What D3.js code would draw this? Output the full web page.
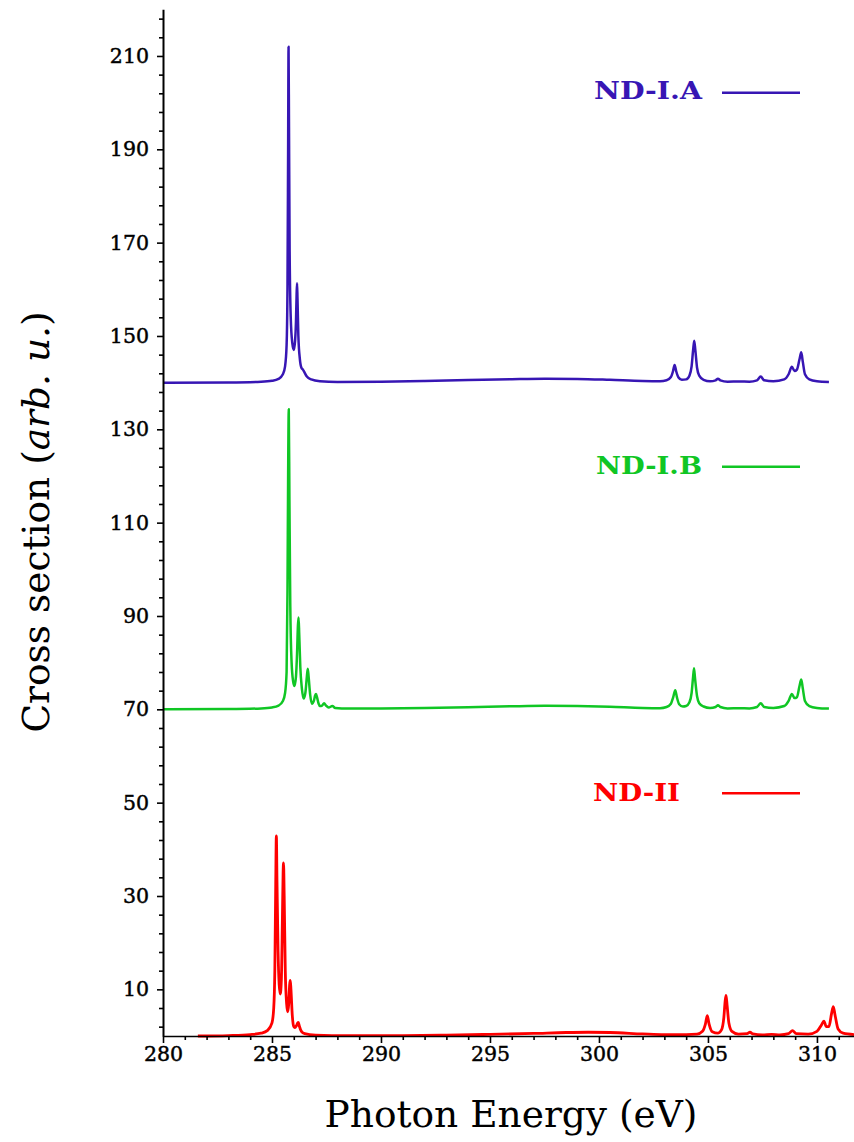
<!DOCTYPE html>
<html>
<head>
<meta charset="utf-8">
<script src="https://cdn.jsdelivr.net/npm/d3@7"></script>
<style>
  html, body { margin: 0; padding: 0; background: #fff; }
  svg { display: block; }
  text { font-family: "DejaVu Serif", serif; }
</style>
</head>
<body>
<svg id="chart" width="854" height="1142"></svg>
<script>
// ---- data (photon energy eV, cross section arb. u.) ----
const seriesNames = ["ND-I.A", "ND-I.B", "ND-II"];
const seriesColors = ["#3716b4", "#10c624", "#ff0000"];

const ndIA = [
  [280, 140.0], [283, 140.05], [284.5, 140.2], [285.0, 140.4], [285.3, 140.8], [285.5, 141.8],
  [285.6, 143.5], [285.67, 148], [285.71, 160], [285.74, 190], [285.76, 212], [285.78, 195],
  [285.81, 168], [285.86, 154], [285.93, 148.5], [286.0, 147], [286.06, 149], [286.1, 153],
  [286.13, 159], [286.15, 161.3], [286.17, 158], [286.21, 150], [286.28, 145], [286.35, 143.2],
  [286.42, 142.8], [286.48, 142.3], [286.6, 141.3], [286.8, 140.7], [287.2, 140.3], [288, 140.15],
  [290, 140.2], [292, 140.35], [294, 140.55], [296, 140.75], [297.5, 140.85], [299, 140.8],
  [300.5, 140.6], [302, 140.35], [302.8, 140.3], [303.1, 140.5], [303.3, 141.2], [303.4, 142.5],
  [303.47, 143.8], [303.54, 142.5], [303.65, 141.1], [303.8, 140.6], [304.0, 140.7], [304.15, 141.5],
  [304.25, 143.5], [304.32, 147], [304.37, 149], [304.42, 147], [304.5, 143.2], [304.6, 141.5],
  [304.8, 140.6], [305.1, 140.3], [305.35, 140.5], [305.46, 140.85], [305.57, 140.5], [305.9, 140.2],
  [306.44, 140.25], [306.9, 140.2], [307.25, 140.5], [307.42, 141.3], [307.58, 140.5], [308.0, 140.3],
  [308.5, 140.7], [308.7, 141.8], [308.85, 143.4], [308.97, 142.5], [309.08, 142.8], [309.2, 145],
  [309.28, 146.5], [309.35, 144.5], [309.45, 141.8], [309.65, 140.7], [310.0, 140.3], [310.55, 140.15]
];

const ndIB = [
  [280, 70.0], [283, 70.05], [284.5, 70.2], [285.0, 70.4], [285.3, 70.8], [285.5, 71.8],
  [285.6, 73.5], [285.67, 78], [285.71, 95], [285.74, 120], [285.77, 134.3], [285.8, 115],
  [285.84, 92], [285.9, 80], [285.97, 76], [286.03, 75], [286.1, 77], [286.15, 82],
  [286.19, 88], [286.22, 89.7], [286.25, 86], [286.3, 79], [286.37, 74.5], [286.45, 72.3],
  [286.53, 73.5], [286.6, 77], [286.64, 78.7], [286.68, 77], [286.75, 73.2], [286.83, 71.2],
  [286.92, 71.8], [286.98, 73], [287.02, 73.3], [287.07, 72.5], [287.14, 71.2], [287.2, 70.7],
  [287.3, 70.8], [287.39, 71.3], [287.48, 70.8], [287.6, 70.4], [287.77, 70.7], [287.9, 70.3],
  [288.5, 70.15], [290, 70.2], [292, 70.3], [294, 70.45], [296, 70.65], [297.5, 70.75],
  [299, 70.7], [300.5, 70.55], [302, 70.3], [302.8, 70.25], [303.1, 70.5], [303.3, 71.2],
  [303.4, 72.5], [303.5, 74.1], [303.58, 72.5], [303.68, 71.1], [303.85, 70.6], [304.0, 70.7],
  [304.15, 71.5], [304.25, 73.5], [304.31, 76.5], [304.36, 78.8], [304.41, 76.5], [304.5, 72.8],
  [304.6, 71.3], [304.8, 70.6], [305.1, 70.3], [305.35, 70.5], [305.46, 70.85], [305.57, 70.5],
  [305.9, 70.2], [306.44, 70.25], [306.9, 70.2], [307.25, 70.5], [307.42, 71.3], [307.58, 70.5],
  [308.0, 70.3], [308.5, 70.7], [308.7, 71.8], [308.85, 73.3], [308.97, 72.4], [309.08, 72.6],
  [309.2, 75], [309.28, 76.4], [309.35, 74.5], [309.45, 71.8], [309.65, 70.7], [310.0, 70.3],
  [310.55, 70.15]
];

const ndII = [
  [281.6, 0.0], [283, 0.1], [284, 0.3], [284.5, 0.6], [284.8, 1.2], [285.0, 2.8],
  [285.08, 6], [285.13, 14], [285.17, 32], [285.2, 42.9], [285.23, 33], [285.28, 18],
  [285.33, 11], [285.38, 9], [285.43, 12], [285.48, 26], [285.51, 35], [285.53, 37.1],
  [285.56, 30], [285.61, 14], [285.67, 7], [285.72, 5.2], [285.77, 7], [285.81, 11],
  [285.84, 11.9], [285.87, 10], [285.93, 4.5], [286.0, 2], [286.05, 1.8], [286.12, 2.2],
  [286.18, 2.8], [286.21, 2.9], [286.25, 2.2], [286.35, 1.0], [286.5, 0.5], [287, 0.2],
  [288.5, 0.08], [291, 0.1], [293, 0.2], [295, 0.35], [297, 0.55], [298.5, 0.75],
  [299.5, 0.8], [300.5, 0.75], [302, 0.45], [303, 0.3], [304, 0.3], [304.5, 0.4],
  [304.75, 1.0], [304.88, 2.5], [304.97, 4.35], [305.05, 2.6], [305.2, 0.9], [305.45, 0.6],
  [305.62, 1.3], [305.73, 4], [305.79, 7.5], [305.83, 8.7], [305.88, 6.5], [305.96, 2.8],
  [306.1, 1.0], [306.4, 0.4], [306.8, 0.5], [306.93, 0.8], [307.06, 0.45], [307.5, 0.25],
  [307.92, 0.35], [308.3, 0.25], [308.7, 0.5], [308.88, 1.15], [309.05, 0.5], [309.6, 0.4],
  [310.0, 1.0], [310.2, 2.3], [310.32, 3.2], [310.43, 2.0], [310.55, 2.0], [310.67, 4.8],
  [310.75, 6.3], [310.83, 4.5], [310.97, 1.5], [311.2, 0.6], [311.7, 0.3]
];

const xMajorTicks = [280, 285, 290, 295, 300, 305, 310];
const yMajorTicks = [10, 30, 50, 70, 90, 110, 130, 150, 170, 190, 210];

// ---- drawing ----
const svg = d3.select("#chart");
const x = d3.scaleLinear().domain([280, 311.7]).range([163, 854]);
const y = d3.scaleLinear().domain([0, 220]).range([1036, 9.3]);

const xMinor = d3.range(280, 312, 1).filter(v => !xMajorTicks.includes(v));
const yMinor = d3.range(2, 220, 4).filter(v => !yMajorTicks.includes(v));

const line = d3.line().x(d => x(d[0])).y(d => y(d[1])).curve(d3.curveMonotoneX);
const allSeries = [ndIA, ndIB, ndII];
const widths = [2.5, 2.5, 2.8];

allSeries.forEach((s, i) => {
  svg.append("path").datum(s)
    .attr("fill", "none")
    .attr("stroke", seriesColors[i])
    .attr("stroke-width", widths[i])
    .attr("stroke-linejoin", "round")
    .attr("d", line);
});

// x axis
const gx = svg.append("g").attr("transform", "translate(0,1036)");
gx.call(d3.axisBottom(x).tickValues(xMinor).tickSize(4).tickSizeOuter(0).tickFormat(""));
gx.call(g => g.select(".domain").remove());
const gx2 = svg.append("g").attr("transform", "translate(0,1036)");
gx2.call(d3.axisBottom(x).tickValues(xMajorTicks).tickSize(7).tickSizeOuter(0).tickPadding(3).tickFormat(d3.format("d")));
gx2.select(".domain").attr("stroke", "#000").attr("stroke-width", 1.6);

// y axis
const gy = svg.append("g").attr("transform", "translate(163,0)");
gy.call(d3.axisLeft(y).tickValues(yMinor).tickSize(4).tickSizeOuter(0).tickFormat(""));
gy.call(g => g.select(".domain").remove());
const gy2 = svg.append("g").attr("transform", "translate(163,0)");
gy2.call(d3.axisLeft(y).tickValues(yMajorTicks).tickSize(6).tickSizeOuter(0).tickPadding(8).tickFormat(d3.format("d")));
gy2.select(".domain").attr("stroke", "#000").attr("stroke-width", 2);

svg.selectAll(".tick line").attr("stroke", "#000").attr("stroke-width", 1.6);
svg.selectAll(".tick text")
  .attr("font-size", 20.5).attr("font-family", "DejaVu Serif")
  .attr("fill", "#000").attr("stroke", "#000").attr("stroke-width", 0.45);

// axis titles
svg.append("text")
  .attr("x", 511).attr("y", 1127)
  .attr("text-anchor", "middle")
  .attr("font-size", 37.5)
  .attr("fill", "#000")
  .text("Photon Energy (eV)");

const yt = svg.append("text")
  .attr("transform", "translate(49,522) rotate(-90)")
  .attr("text-anchor", "middle")
  .attr("font-size", 37.5)
  .attr("fill", "#000");
yt.append("tspan").text("Cross section (");
yt.append("tspan").attr("font-style", "italic").text("arb. u.");
yt.append("tspan").text(")");

// legend
const legendTextX = [594, 596, 593];
const legendTextY = [99, 474, 801];
const legendTextW = [108, 106, 87];
const legendLineY = [92.7, 466.7, 793.3];
seriesNames.forEach((n, i) => {
  svg.append("text")
    .attr("x", legendTextX[i]).attr("y", legendTextY[i])
    .attr("font-size", 25).attr("font-weight", "bold")
    .attr("textLength", legendTextW[i]).attr("lengthAdjust", "spacingAndGlyphs")
    .attr("fill", seriesColors[i])
    .text(n);
  svg.append("line")
    .attr("x1", 722).attr("x2", 800)
    .attr("y1", legendLineY[i]).attr("y2", legendLineY[i])
    .attr("stroke", seriesColors[i]).attr("stroke-width", 2.4);
});
</script>
</body>
</html>
